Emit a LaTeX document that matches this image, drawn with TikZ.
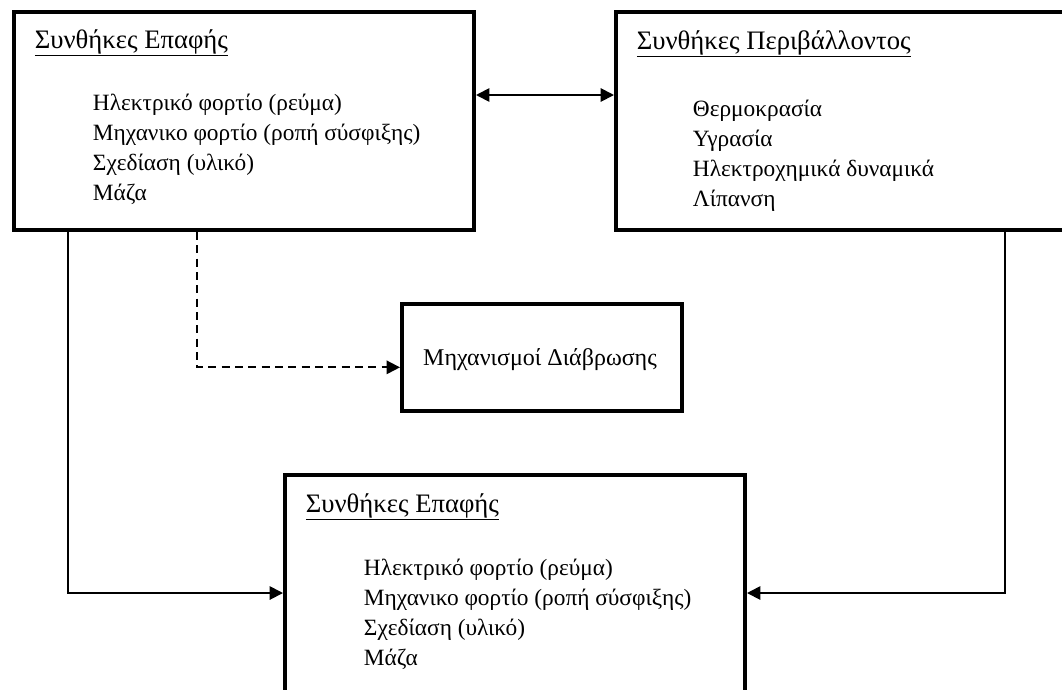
\documentclass[tikz,border=0pt]{standalone}
\usepackage{fontspec}
\setmainfont{Liberation Serif}
\usetikzlibrary{arrows.meta}

\tikzset{
  boxx/.style={draw, line width=3pt, inner sep=0pt, anchor=north west},
  txt/.style={anchor=base west, inner sep=0pt, align=left,
    font=\fontsize{17.5}{22.5}\selectfont},
  ttl/.style={txt, font=\fontsize{20}{24}\selectfont},
  tip/.style={-{Triangle[length=10pt,width=10pt]}}
}

\begin{document}
\begin{tikzpicture}[x=0.75pt,y=-0.75pt,line width=1.4pt]
\useasboundingbox (0,0) rectangle (1062,689);
\clip (0,0) rectangle (1062,689);

% contact conditions, top
\node[boxx, minimum width=345pt, minimum height=163.5pt] (epafi) at (12,10) {};
\node[ttl] (epafiT) at (34,48) {\underline{Συνθήκες Επαφής}};
\node[txt] (epafiL) at (92,200) {Ηλεκτρικό φορτίο (ρεύμα)\\Μηχανικο φορτίο (ροπή σύσφιξης)\\Σχεδίαση (υλικό)\\Μάζα};

% environment conditions
\node[boxx, minimum width=345pt, minimum height=163.5pt] (perib) at (614,10) {};
\node[ttl] (peribT) at (636,49) {\underline{Συνθήκες Περιβάλλοντος}};
\node[txt] (peribL) at (692,206) {Θερμοκρασία\\Υγρασία\\Ηλεκτροχημικά δυναμικά\\Λίπανση};

% corrosion mechanisms
\node[boxx, minimum width=210pt, minimum height=80pt] (diavr) at (400,302) {};
\node[txt, anchor=center, font=\fontsize{18}{22}\selectfont] (diavrT) at (540,360) {Μηχανισμοί Διάβρωσης};

% contact conditions, bottom
\node[boxx, minimum width=345pt, minimum height=163.5pt] (epafi2) at (283,473) {};
\node[ttl] (epafi2T) at (305,512) {\underline{Συνθήκες Επαφής}};
\node[txt] (epafi2L) at (363,665) {Ηλεκτρικό φορτίο (ρεύμα)\\Μηχανικο φορτίο (ροπή σύσφιξης)\\Σχεδίαση (υλικό)\\Μάζα};

\draw[{Triangle[length=10pt,width=10pt]}-{Triangle[length=10pt,width=10pt]}]
  ([yshift=19.5pt]epafi.east) -- ([yshift=19.5pt]perib.west);
\draw[tip, dash pattern=on 6pt off 4pt] ([xshift=138.75pt]epafi.south west) |- ([yshift=-7.5pt]diavr.west);
\draw[tip] ([xshift=42pt]epafi.south west) |- ([yshift=-6.75pt]epafi2.west);
\draw[tip] ([xshift=293.25pt]perib.south west) |- ([yshift=-6.75pt]epafi2.east);

\end{tikzpicture}
\end{document}
